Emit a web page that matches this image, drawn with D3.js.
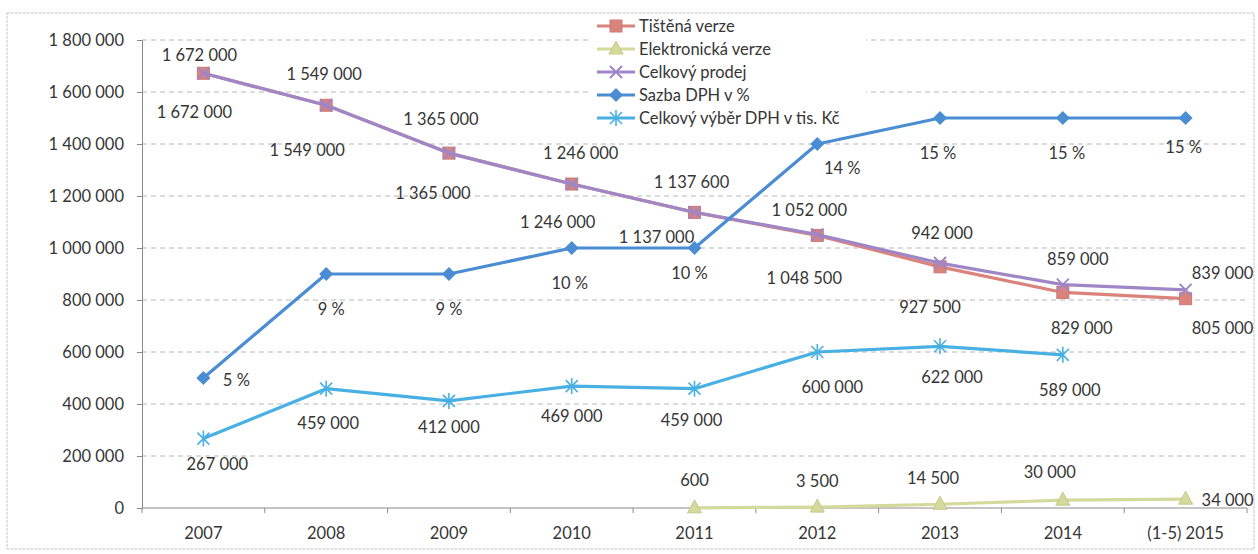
<!DOCTYPE html>
<html lang="cs">
<head>
<meta charset="UTF-8">
<title>Prodej a DPH</title>
<script src="https://d3js.org/d3.v7.min.js"></script>
<style>
  body { margin: 0; background: #fff; }
  svg text { font-family: Lato, "Open Sans", sans-serif; fill: #363636; }
</style>
</head>
<body>
<svg id="chart" width="1258" height="554"></svg>
<script>
// data
const years = ["2007", "2008", "2009", "2010", "2011", "2012", "2013", "2014", "(1-5) 2015"];
const tistena = [1672000, 1549000, 1365000, 1246000, 1137000, 1048500, 927500, 829000, 805000];
const elektronicka = [null, null, null, null, 600, 3500, 14500, 30000, 34000];
const celkovyProdej = [1672000, 1549000, 1365000, 1246000, 1137600, 1052000, 942000, 859000, 839000];
const sazbaDph = [5, 9, 9, 10, 10, 14, 15, 15, 15];           // percent, drawn x 100 000
const vyberDph = [267000, 459000, 412000, 469000, 459000, 600000, 622000, 589000, null];
const yTicks = [0, 200000, 400000, 600000, 800000, 1000000, 1200000, 1400000, 1600000, 1800000];

// hand placed data label nudges (px, relative to the point), like in the original
const nudgeTistena = [[-9, 39], [-19, 45], [-16, 40], [-14, 38], [-38, 25], [-13, 43], [-10, 40], [19, 36], [37, 29]];
const nudgeElektronicka = [null, null, null, null, [0, -28], [0, -26], [-7, -26], [-13, -28], [42, 1]];
const nudgeProdej = [[-4, -18], [-2, -31], [-8, -34], [9, -31], [-3, -30], [-8, -24], [2, -30], [15, -26], [37, -17]];
const nudgeSazba = [[33, 2], [5, 35], [0, 35], [-2, 35], [-5, 25], [25, 24], [-2, 35], [4, 35], [-2, 29]];
const nudgeVyber = [[14, 25], [2, 34], [0, 26], [0, 30], [-3, 31], [15, 35], [12, 31], [7, 35], null];

const svg = d3.select("#chart");
const plotLeft = 142, plotRight = 1247, plotTop = 40, plotBottom = 508;
const fontSize = 16.5;

const x = d3.scalePoint().domain(years).range([plotLeft, plotRight]).padding(0.5);
const y = d3.scaleLinear().domain([0, 1800000]).range([plotBottom, plotTop]);
const fmt = v => d3.format(",")(v).replace(/,/g, " ");

// outer frame of the pasted chart
svg.append("rect")
  .attr("x", 7).attr("y", 13).attr("width", 1247).attr("height", 536)
  .attr("fill", "none").attr("stroke", "#c4c4c4").attr("stroke-dasharray", "3,1");

// gridlines
svg.append("g").selectAll("line")
  .data(yTicks.slice(1))
  .join("line")
  .attr("x1", plotLeft).attr("x2", plotRight)
  .attr("y1", d => y(d)).attr("y2", d => y(d))
  .attr("stroke", "#b8b8b8").attr("stroke-width", 1)
  .attr("stroke-dasharray", "5,4");

// y axis
const yAxis = svg.append("g")
  .attr("transform", `translate(${plotLeft},0)`)
  .call(d3.axisLeft(y).tickValues(yTicks).tickFormat(fmt).tickSize(5).tickPadding(13));
yAxis.select(".domain").attr("stroke", "#8a8a8a");
yAxis.selectAll(".tick line").attr("stroke", "#8a8a8a");
yAxis.selectAll("text").attr("font-size", fontSize).attr("fill", "#363636")
  .style("font-family", "Lato, sans-serif");

// x axis
svg.append("line")
  .attr("x1", plotLeft).attr("x2", plotRight).attr("y1", plotBottom).attr("y2", plotBottom)
  .attr("stroke", "#8a8a8a");
const step = x.step();
svg.append("g").selectAll("line")
  .data(d3.range(years.length + 1))
  .join("line")
  .attr("x1", i => plotLeft + i * step).attr("x2", i => plotLeft + i * step)
  .attr("y1", plotBottom).attr("y2", plotBottom + 5)
  .attr("stroke", "#8a8a8a");
svg.append("g").selectAll("text")
  .data(years)
  .join("text")
  .attr("x", d => x(d)).attr("y", 533)
  .attr("text-anchor", "middle").attr("dominant-baseline", "central")
  .attr("font-size", fontSize)
  .text(d => d);

const series = [
  { name: "Tištěná verze", values: tistena, color: "#da837c", marker: "square", nudge: nudgeTistena, text: fmt },
  { name: "Elektronická verze", values: elektronicka, color: "#d3da9c", marker: "triangle", nudge: nudgeElektronicka, text: fmt },
  { name: "Celkový prodej", values: celkovyProdej, color: "#9f86c6", marker: "x", nudge: nudgeProdej, text: fmt },
  { name: "Sazba DPH v %", values: sazbaDph.map(v => v * 100000), color: "#4a8dd2", marker: "diamond", nudge: nudgeSazba,
    text: v => (v / 100000) + " %" },
  { name: "Celkový výběr DPH v tis. Kč", values: vyberDph, color: "#49b0e4", marker: "star", nudge: nudgeVyber, text: fmt }
];

function drawMarker(g, type, color) {
  if (type === "square") {
    g.append("rect").attr("x", -6).attr("y", -6).attr("width", 12).attr("height", 12)
      .attr("fill", color).attr("stroke", "#c97a74").attr("stroke-width", 1);
  } else if (type === "triangle") {
    g.append("path").attr("d", "M0,-8L7,5L-7,5Z").attr("fill", color).attr("stroke", "#c2ca88");
  } else if (type === "diamond") {
    g.append("path").attr("d", "M0,-7L7,0L0,7L-7,0Z").attr("fill", color);
  } else if (type === "x") {
    g.append("path").attr("d", "M-6,-6L6,6M-6,6L6,-6").attr("stroke", color).attr("stroke-width", 2);
  } else if (type === "star") {
    g.append("path").attr("d", "M-6,-6L6,6M-6,6L6,-6M0,-8L0,8").attr("stroke", color).attr("stroke-width", 1.6);
  }
}

const line = d3.line()
  .defined(d => d.v !== null)
  .x(d => x(d.year))
  .y(d => y(d.v));

series.forEach(s => {
  const pts = s.values.map((v, i) => ({ year: years[i], v, i }));
  svg.append("path")
    .datum(pts)
    .attr("d", line)
    .attr("fill", "none")
    .attr("stroke", s.color)
    .attr("stroke-width", 3.2)
    .attr("stroke-linejoin", "round");
  pts.filter(d => d.v !== null).forEach(d => {
    const g = svg.append("g").attr("transform", `translate(${x(d.year)},${y(d.v)})`);
    drawMarker(g, s.marker, s.color);
  });
});

// data labels
series.forEach(s => {
  s.values.forEach((v, i) => {
    if (v === null) return;
    const [dx, dy] = s.nudge[i];
    svg.append("text")
      .attr("x", x(years[i]) + dx)
      .attr("y", y(v) + dy)
      .attr("text-anchor", "middle")
      .attr("dominant-baseline", "central")
      .attr("font-size", fontSize)
      .text(s.text(v));
  });
});

// legend
const legend = svg.append("g").attr("transform", "translate(588,15)");
legend.append("rect").attr("width", 278).attr("height", 114).attr("fill", "#fff");
series.forEach((s, i) => {
  const row = legend.append("g").attr("transform", `translate(0,${11 + i * 23})`);
  row.append("line").attr("x1", 9).attr("x2", 47).attr("stroke", s.color).attr("stroke-width", 3.2);
  drawMarker(row.append("g").attr("transform", "translate(28,0)"), s.marker, s.color);
  row.append("text").attr("x", 51).attr("y", 0)
    .attr("dominant-baseline", "central").attr("font-size", fontSize).text(s.name);
});
</script>
</body>
</html>
